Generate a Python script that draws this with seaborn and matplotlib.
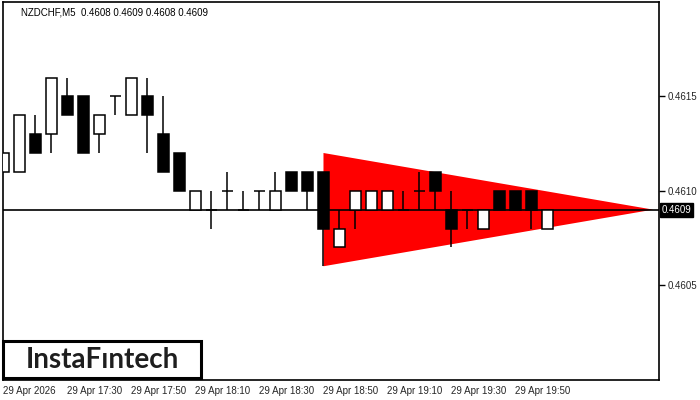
import numpy as np
import matplotlib
matplotlib.use("Agg")
import matplotlib.pyplot as plt
import matplotlib.transforms as mtransforms
from matplotlib.patches import Rectangle
import seaborn as sns

# NZDCHF M5 candles, 29 Apr 2026 from 17:10
opens = [0.4611, 0.4611, 0.4613, 0.4613, 0.4615, 0.4615, 0.4613, 0.4615, 0.4614, 0.4615,
         0.4613, 0.4612, 0.4609, 0.4609, 0.4610, 0.4609, 0.4610, 0.4609, 0.4611, 0.4611,
         0.4611, 0.4607, 0.4609, 0.4609, 0.4609, 0.4609, 0.4610, 0.4611, 0.4609, 0.4609,
         0.4608, 0.4610, 0.4610, 0.4610, 0.4608]
highs = [0.4612, 0.4614, 0.4614, 0.4616, 0.4616, 0.4615, 0.4614, 0.4615, 0.4616, 0.4616,
         0.4615, 0.4612, 0.4610, 0.4610, 0.4611, 0.4610, 0.4610, 0.4611, 0.4611, 0.4611,
         0.4611, 0.4609, 0.4610, 0.4610, 0.4610, 0.4610, 0.4611, 0.4611, 0.4610, 0.4609,
         0.4609, 0.4610, 0.4610, 0.4610, 0.4609]
lows = [0.4611, 0.4611, 0.4612, 0.4612, 0.4614, 0.4612, 0.4612, 0.4614, 0.4614, 0.4612,
        0.4611, 0.4610, 0.4609, 0.4608, 0.4609, 0.4609, 0.4609, 0.4609, 0.4610, 0.4609,
        0.4606, 0.4607, 0.4608, 0.4609, 0.4609, 0.4609, 0.4609, 0.4609, 0.4607, 0.4608,
        0.4608, 0.4609, 0.4609, 0.4608, 0.4608]
closes = [0.4612, 0.4614, 0.4612, 0.4616, 0.4614, 0.4612, 0.4614, 0.4615, 0.4616, 0.4614,
          0.4611, 0.4610, 0.4610, 0.4609, 0.4610, 0.4609, 0.4610, 0.4610, 0.4610, 0.4610,
          0.4608, 0.4608, 0.4610, 0.4610, 0.4610, 0.4609, 0.4610, 0.4610, 0.4608, 0.4609,
          0.4609, 0.4609, 0.4609, 0.4609, 0.4609]

x_ticks = [0, 4, 8, 12, 16, 20, 24, 28, 32]
x_labels = ["29 Apr 2026", "29 Apr 17:30", "29 Apr 17:50", "29 Apr 18:10", "29 Apr 18:30",
            "29 Apr 18:50", "29 Apr 19:10", "29 Apr 19:30", "29 Apr 19:50"]
y_ticks = [0.4605, 0.4610, 0.4615]
last_price = 0.4609

# bearish symmetrical triangle (start bar, top, bottom, apex bar, apex price)
tri_x = [20, 20, 40.6]
tri_y = [0.4612, 0.4606, 0.4609]

sns.set_style("white")
plt.rcParams['font.family'] = ['Liberation Sans', 'DejaVu Sans']

fig = plt.figure(figsize=(7, 4), dpi=100)
ax = fig.add_axes([3 / 700, 20.5 / 400, 656 / 700, 377.5 / 400])

ax.fill(tri_x, tri_y, color="#ff0000", lw=0, zorder=1)
ax.axhline(last_price, color="black", lw=1.2, zorder=2)

idx = np.arange(len(opens))
o = np.array(opens)
c = np.array(closes)
ax.vlines(idx, lows, highs, color="black", lw=1.1, zorder=3)
bottoms = np.minimum(o, c)
heights = np.abs(c - o)
colors = ["white" if cc > oo else "black" for oo, cc in zip(o, c)]
body = heights > 0
ax.bar(idx[body], heights[body], bottom=bottoms[body], width=0.64,
       color=np.array(colors)[body], edgecolor="black", lw=1.1, zorder=4)
ax.hlines(o[~body], idx[~body] - 0.32, idx[~body] + 0.32, color="black", lw=1.1, zorder=4)

ax.set_xlim(-0.03, 40.97)
ax.set_ylim(0.46000, 0.46200)

ax.set_xticks(x_ticks)
ax.set_xticklabels(x_labels, ha="left", fontsize=7)
ax.yaxis.tick_right()
ax.set_yticks(y_ticks)
ax.set_yticklabels([f"{v:.4f}" for v in y_ticks], fontsize=7)
ax.tick_params(axis="both", direction="out", length=4, width=1, color="black", pad=2)
ax.tick_params(axis="x", pad=1)
for s in ax.spines.values():
    s.set_color("black")
    s.set_linewidth(1.2)

trans = mtransforms.blended_transform_factory(ax.transAxes, ax.transData)
ax.text(1.004, last_price, f"{last_price:.4f}", transform=trans, ha="left", va="center",
        fontsize=7, color="white",
        bbox=dict(boxstyle="square,pad=0.2", fc="black", ec="black"))

ax.text(18 / 656, 0.985, "NZDCHF,M5  0.4608 0.4609 0.4608 0.4609", transform=ax.transAxes,
        ha="left", va="top", fontsize=7, color="black")

# logo box
fig.patches.append(Rectangle((3 / 700, 22 / 400), 198 / 700, 37 / 400, transform=fig.transFigure,
                             fill=False, ec="black", lw=2.2, zorder=10))
fig.text(102 / 700, 40.5 / 400, "InstaF\u0131ntech", ha="center", va="center",
         fontsize=20, family="Lato", weight="bold", color="#1e1e1e", zorder=11)

fig.savefig("out.png", dpi=100)
